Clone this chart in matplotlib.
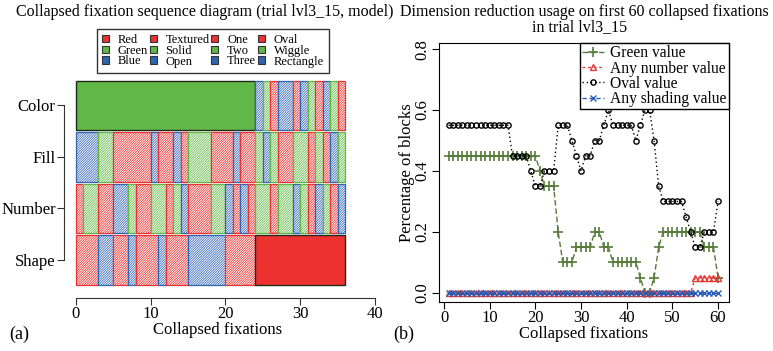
import matplotlib
matplotlib.use("Agg")
import matplotlib.pyplot as plt
from matplotlib.patches import Patch
import numpy as np

plt.rcParams['font.family'] = 'serif'
plt.rcParams['font.serif'] = ['Liberation Serif']
plt.rcParams['hatch.linewidth'] = 0.55

# ---- panel (a) data: one letter per collapsed fixation (R/G/B = first/second/third value)
rows = ['Color', 'Fill', 'Number', 'Shape']
color_seq = 'G' * 24 + 'BGRBBRBGRBGR'
fill_seq = 'BBB' + 'GG' + 'RRRRR' + 'B' + 'RR' + 'B' + 'R' + 'GGG' + 'RRR' + 'B' + 'RR' + 'G' + 'B' + 'G' + 'RR' + 'GG' + 'R' + 'G' + 'R' + 'B' + 'G'
number_seq = 'R' + 'GG' + 'RR' + 'BB' + 'G' + 'RR' + 'GG' + 'R' + 'G' + 'B' + 'RRR' + 'GG' + 'B' + 'R' + 'B' + 'R' + 'GG' + 'R' + 'GG' + 'B' + 'G' + 'R' + 'B' + 'G' + 'R' + 'B'
shape_seq = 'RRR' + 'BB' + 'RR' + 'B' + 'RRR' + 'B' + 'RRR' + 'BBBBB' + 'RRRR' + 'R' * 12
# dimension used by the model at each fixation
model_dim = ['Color'] * 24 + ['Shape'] * 12

legend_labels = ['Red', 'Green', 'Blue', 'Textured', 'Solid', 'Open',
                 'One', 'Two', 'Three', 'Oval', 'Wiggle', 'Rectangle']

# ---- panel (b) data
fix_idx = np.arange(1, 61)
green_val = [0.45] * 20 + [0.4] + [0.35] * 3 + [0.2] + [0.1] * 3 + [0.15] * 4 + [0.2] * 2 + \
            [0.15] * 2 + [0.1] * 6 + [0.05] + [0.0] * 2 + [0.05] + [0.15] + [0.2] * 9 + [0.15] * 3 + [0.05]
number_val = [0.0] * 54 + [0.05] * 6
oval_val = [0.55] * 14 + [0.45] * 4 + [0.4] + [0.35] * 2 + [0.4] * 3 + [0.55] * 3 + [0.5] + [0.45] + \
           [0.4] + [0.45] * 2 + [0.5] * 2 + [0.55] + [0.6] + [0.55] * 5 + [0.5] + [0.55] + [0.6] * 2 + \
           [0.5] + [0.35] + [0.3] * 5 + [0.25] + [0.2] + [0.15] * 2 + [0.2] * 3 + [0.3]
shading_val = [0.0] * 60

cols = {'R': '#EE3131', 'G': '#62B846', 'B': '#3264B4'}
W, H = 773, 351
fig = plt.figure(figsize=(W / 100, H / 100), dpi=100)

def box(l, r, t, b):
    return [l / W, 1 - b / H, (r - l) / W, (b - t) / H]

#%% panel (a)
ax = fig.add_axes(box(64, 387, 28, 298))
seqs = [color_seq, fill_seq, number_seq, shape_seq]
for k, (name, seq) in enumerate(zip(rows, seqs)):
    y = 4 - k
    # split into runs of same value and same model state
    i = 0
    while i < len(seq):
        solid = model_dim[i] == name
        j = i
        while j < len(seq) and seq[j] == seq[i] and (model_dim[j] == name) == solid:
            j += 1
        c = cols[seq[i]]
        if solid:
            ax.barh(y, j - i, left=i, height=0.96, color=c,
                    edgecolor='#1e2a1a', linewidth=1.0)
        else:
            ax.barh(y, j - i, left=i, height=0.96, facecolor='white',
                    edgecolor=c, hatch='/' * 14, linewidth=0.9)
        i = j

ax.set_xlim(-1.6, 41.6)
ax.set_ylim(0.262, 5.5)
ax.set_yticks([4, 3, 2, 1])
ax.set_yticklabels(rows, fontsize=12)
ax.set_xticks([0, 10, 20, 30, 40])
ax.tick_params(labelsize=12, length=5, color='#333333', pad=1)
for s in ['top', 'right']:
    ax.spines[s].set_visible(False)
ax.spines['left'].set_bounds(1, 4)
ax.spines['bottom'].set_bounds(0, 40)
ax.spines['left'].set_color('#333333')
ax.spines['bottom'].set_color('#333333')
ax.set_xlabel('Collapsed fixations', fontsize=12, labelpad=0)
ax.xaxis.set_label_coords((218 - 64) / (387 - 64), -0.09)

handles = [Patch(facecolor=cols[c], edgecolor='#333333', linewidth=0.8) for c in 'RGB' * 4]
leg = ax.legend(handles, legend_labels, ncol=4, loc='upper left',
                bbox_to_anchor=(97 / W, 1 - 29 / H), bbox_transform=fig.transFigure,
                fontsize=9.0, handlelength=0.55, handleheight=0.55, handletextpad=0.7,
                columnspacing=0.15, labelspacing=-0.1, borderpad=0.4,
                fancybox=False, edgecolor='#333333', framealpha=1, borderaxespad=0)
leg.get_frame().set_linewidth(1.0)

#%% panel (b)
bx = fig.add_axes(box(439, 729, 43, 302))
bx.plot(fix_idx, green_val, color='#557B39', linestyle=(0, (4, 2)), lw=1.0,
        marker='+', ms=7, mew=1.2, label='Green value')
bx.plot(fix_idx, number_val, color='#E33A36', linestyle=(0, (2, 2)), lw=1.0,
        marker='^', ms=4.5, mfc='none', mew=1.0, label='Any number value')
bx.plot(fix_idx, oval_val, color='black', linestyle=(0, (1, 2)), lw=1.0,
        marker='o', ms=3.8, mfc='none', mew=1.0, label='Oval value')
bx.plot(fix_idx, shading_val, color='#2A5BB5', linestyle=(0, (3, 2)), lw=1.0,
        marker='x', ms=4, mew=1.0, label='Any shading value')
bx.set_xlim(-1.1, 62.4)
bx.set_ylim(-0.03, 0.82)
bx.set_xticks([0, 10, 20, 30, 40, 50, 60])
bx.set_yticks([0, 0.2, 0.4, 0.6, 0.8])
bx.set_yticklabels(['0.0', '0.2', '0.4', '0.6', '0.8'], rotation=90, va='center')
bx.tick_params(labelsize=12, length=5, pad=1)
bx.set_xlabel('Collapsed fixations', fontsize=12, labelpad=0)
bx.set_ylabel('Percentage of blocks', fontsize=12, labelpad=0)
leg2 = bx.legend(loc='upper right', fontsize=11.2, handlelength=1.4, handletextpad=0.4,
                 labelspacing=-0.05, borderpad=0.15, borderaxespad=0,
                 fancybox=False, edgecolor='black', framealpha=1)
leg2.get_frame().set_linewidth(1.0)

fig.text(205 / W, 1 - 12 / H, 'Collapsed fixation sequence diagram (trial lvl3_15, model)',
         ha='center', va='center', fontsize=11.5)
fig.text(584 / W, 1 - 12 / H, 'Dimension reduction usage on first 60 collapsed fixations',
         ha='center', va='center', fontsize=11.5)
fig.text(580 / W, 1 - 27 / H, 'in trial lvl3_15', ha='center', va='center', fontsize=11.5)
fig.text(19 / W, 1 - 334 / H, '(a)', ha='center', va='center', fontsize=13)
fig.text(404 / W, 1 - 334 / H, '(b)', ha='center', va='center', fontsize=13)

fig.savefig('out.png', dpi=100)
